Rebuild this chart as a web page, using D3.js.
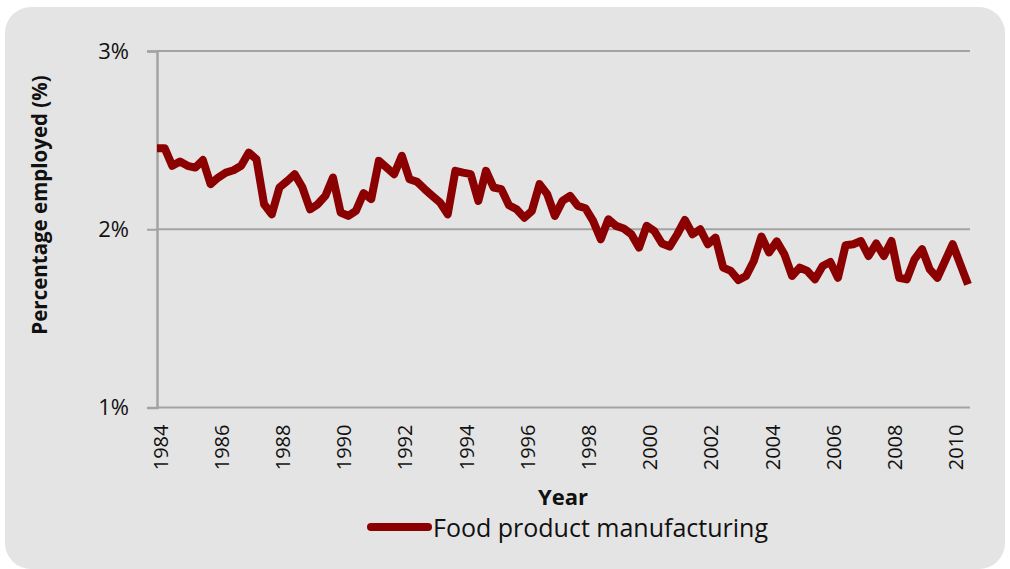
<!DOCTYPE html>
<html>
<head>
<meta charset="utf-8">
<script src="https://cdn.jsdelivr.net/npm/d3@7/dist/d3.min.js"></script>
<style>
  html, body { margin: 0; padding: 0; background: #ffffff; }
  svg { display: block; }
  text { font-family: "Open Sans", Lato, sans-serif; fill: #111; }
</style>
</head>
<body>
<svg id="chart" width="1010" height="569"></svg>
<script>
// Quarterly share of employment in food product manufacturing, 1984 Q1 – 2010 Q3
const startYear = 1984;
const quarterCount = 107;
const categories = d3.range(quarterCount).map(i => `${startYear + Math.floor(i / 4)} Q${(i % 4) + 1}`);

const foodManufacturing = [
  2.455, 2.455, 2.356, 2.380, 2.356, 2.346, 2.388, 2.253,
  2.290, 2.318, 2.331, 2.356, 2.430, 2.393, 2.140, 2.084,
  2.234, 2.270, 2.309, 2.235, 2.112, 2.140, 2.187, 2.290,
  2.094, 2.075, 2.103, 2.203, 2.169, 2.384, 2.346, 2.309,
  2.412, 2.281, 2.266, 2.225, 2.187, 2.150, 2.084, 2.328,
  2.318, 2.309, 2.159, 2.328, 2.234, 2.225, 2.135, 2.112,
  2.065, 2.103, 2.253, 2.197, 2.075, 2.159, 2.187, 2.131,
  2.118, 2.047, 1.944, 2.056, 2.019, 2.004, 1.972, 1.897,
  2.019, 1.990, 1.920, 1.903, 1.972, 2.052, 1.972, 2.000,
  1.916, 1.953, 1.785, 1.766, 1.715, 1.738, 1.822, 1.959,
  1.870, 1.932, 1.860, 1.738, 1.785, 1.766, 1.719, 1.794,
  1.816, 1.728, 1.910, 1.916, 1.934, 1.850, 1.920, 1.850,
  1.934, 1.728, 1.719, 1.831, 1.888, 1.775, 1.728, 1.822,
  1.916, 1.803, 1.691
];

const yTicks = [1, 2, 3];
const xTickLabels = ["1984", "1986", "1988", "1990", "1992", "1994", "1996",
                     "1998", "2000", "2002", "2004", "2006", "2008", "2010"];
const seriesName = "Food product manufacturing";

const svg = d3.select("#chart");
const lineColor = "#8b0000";
const axisColor = "#a3a3a3";
const fontStack = "'Open Sans', Lato, sans-serif";

// Rounded grey panel behind the chart
svg.append("rect")
  .attr("x", 5).attr("y", 7)
  .attr("width", 1000).attr("height", 562)
  .attr("rx", 26).attr("ry", 26)
  .attr("fill", "#e4e4e4");

const x = d3.scalePoint().domain(categories).range([157, 968]);
const y = d3.scaleLinear().domain([1, 3]).range([407.5, 51]);

// Horizontal gridlines
svg.append("g")
  .selectAll("line")
  .data(yTicks)
  .join("line")
  .attr("x1", 157).attr("x2", 970)
  .attr("y1", d => y(d)).attr("y2", d => y(d))
  .attr("stroke", axisColor)
  .attr("stroke-width", 2);

// Y axis
const yAxis = svg.append("g")
  .attr("transform", "translate(157,0)")
  .call(d3.axisLeft(y).tickValues(yTicks).tickFormat(d => d + "%").tickSize(10).tickPadding(18));
yAxis.select(".domain").attr("stroke", axisColor).attr("stroke-width", 2.5);
yAxis.selectAll(".tick line").attr("stroke", axisColor).attr("stroke-width", 2);
yAxis.selectAll(".tick text")
  .attr("font-size", 22)
  .attr("font-family", fontStack)
  .attr("fill", "#111");

// X axis with rotated year labels on the first quarter of every second year
const labelCats = xTickLabels.map(yr => `${yr} Q1`);
const xAxis = svg.append("g")
  .attr("transform", `translate(0,${y(1)})`)
  .call(d3.axisBottom(x).tickValues(labelCats).tickFormat(d => d.slice(0, 4)).tickSize(0));
xAxis.select(".domain").remove();
xAxis.selectAll(".tick text")
  .attr("font-size", 20)
  .attr("font-family", fontStack)
  .attr("fill", "#111")
  .attr("text-anchor", "end")
  .attr("dy", "0.35em")
  .attr("transform", "translate(3,17) rotate(-90)")
  .attr("x", 0).attr("y", 0);

// Series line
const line = d3.line()
  .x((d, i) => x(categories[i]))
  .y(d => y(d));
svg.append("path")
  .datum(foodManufacturing)
  .attr("d", line)
  .attr("fill", "none")
  .attr("stroke", lineColor)
  .attr("stroke-width", 8)
  .attr("stroke-linejoin", "round")
  .attr("stroke-linecap", "butt");

// Axis titles
svg.append("text")
  .attr("transform", "translate(47,205) rotate(-90)")
  .attr("text-anchor", "middle")
  .attr("font-size", 20.5)
  .attr("font-weight", "bold")
  .text("Percentage employed (%)");

svg.append("text")
  .attr("x", 563).attr("y", 505)
  .attr("text-anchor", "middle")
  .attr("font-size", 22)
  .attr("font-weight", "bold")
  .text("Year");

// Legend
const legend = svg.append("g");
legend.append("line")
  .attr("x1", 371).attr("x2", 428)
  .attr("y1", 527).attr("y2", 527)
  .attr("stroke", lineColor)
  .attr("stroke-width", 8)
  .attr("stroke-linecap", "round");
legend.append("text")
  .attr("x", 433).attr("y", 537)
  .attr("font-size", 25)
  .text(seriesName);
</script>
</body>
</html>
